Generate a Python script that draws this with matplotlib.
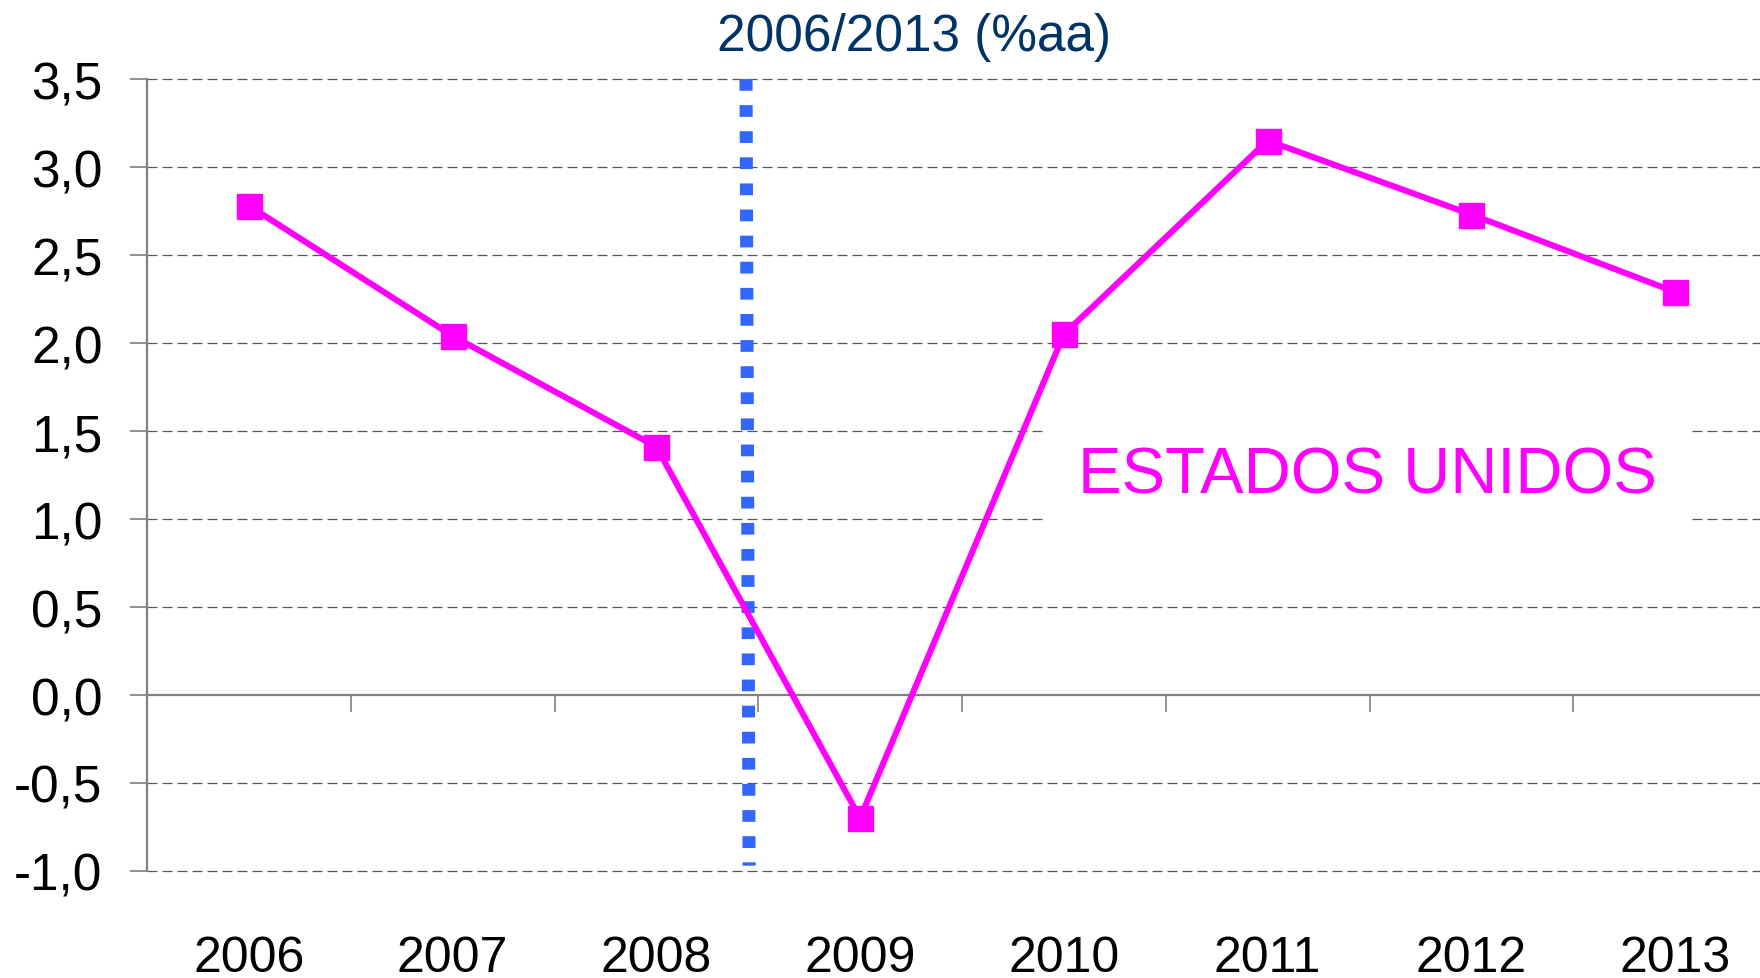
import matplotlib
matplotlib.use('Agg')
import matplotlib.pyplot as plt
from matplotlib.ticker import FixedLocator, FuncFormatter

# ===================== DATOS =====================
ANOS = ['2006', '2007', '2008', '2009', '2010', '2011', '2012', '2013']
CRECIMIENTO = [2.78, 2.04, 1.41, -0.70, 2.05, 3.15, 2.73, 2.29]
Y_TICKS = [-1.0, -0.5, 0.0, 0.5, 1.0, 1.5, 2.0, 2.5, 3.0, 3.5]

TITULO = '2006/2013 (%aa)'
PAIS = 'ESTADOS UNIDOS'

# linea de corte (entre 2008 y 2009)
CORTE_X = [2.44, 2.455]
CORTE_Y = [3.5, -0.97]

MAGENTA = '#FF00FF'
AZUL = '#3366FF'
NAVY = '#003366'
GRIS = '#808080'

plt.rcParams['font.family'] = ['Liberation Sans', 'DejaVu Sans']

fig = plt.figure(figsize=(17.6, 9.79), dpi=100)
ax = fig.add_axes([147 / 1760, 107 / 979, 1630 / 1760, 792 / 979])

x = list(range(len(ANOS)))
ax.plot(x, CRECIMIENTO, color=MAGENTA, lw=4.4, marker='s', ms=18,
        zorder=5, clip_on=False)
ax.plot(CORTE_X, CORTE_Y, color=AZUL, lw=9.4, linestyle=(0, (0.9, 1.1)),
        solid_capstyle='butt', dash_capstyle='butt', zorder=4, clip_on=False)

ax.set_xlim(-0.5, len(ANOS) - 0.5)
ax.set_ylim(-1.0, 3.5)

# ejes
for s in ['top', 'right']:
    ax.spines[s].set_visible(False)
ax.spines['bottom'].set_position(('data', 0))
ax.spines['bottom'].set_color(GRIS)
ax.spines['bottom'].set_linewidth(1.6)
ax.spines['left'].set_color(GRIS)
ax.spines['left'].set_linewidth(1.6)

ax.set_yticks(Y_TICKS)
ax.yaxis.set_major_formatter(FuncFormatter(lambda v, p: f'{v:.1f}'.replace('.', ',')))
ax.tick_params(axis='y', length=12, width=1.2, color=GRIS, pad=20,
               labelsize=37, labelcolor='black')

ax.set_xticks(x)
ax.set_xticklabels(ANOS)
ax.xaxis.set_minor_locator(FixedLocator([i - 0.5 for i in range(len(ANOS) + 1)]))
ax.tick_params(axis='x', which='major', length=0, pad=173, labelsize=36)
ax.tick_params(axis='x', which='minor', length=12, width=1.2, color=GRIS)

# rejilla punteada
for v in Y_TICKS:
    if v == 0:
        continue
    ax.axhline(v, color='#555555', lw=0.9, linestyle=(0, (8, 4)), zorder=1,
               clip_on=False)

ax.text(5.49, 1.25, PAIS, color=MAGENTA, fontsize=47, ha='center',
        va='center', zorder=3,
        bbox=dict(facecolor='white', edgecolor='none', pad=24))

fig.text(914 / 1760, 1 - 38 / 979, TITULO, color=NAVY, fontsize=37,
         ha='center', va='center')

fig.savefig('out.png', dpi=100)
